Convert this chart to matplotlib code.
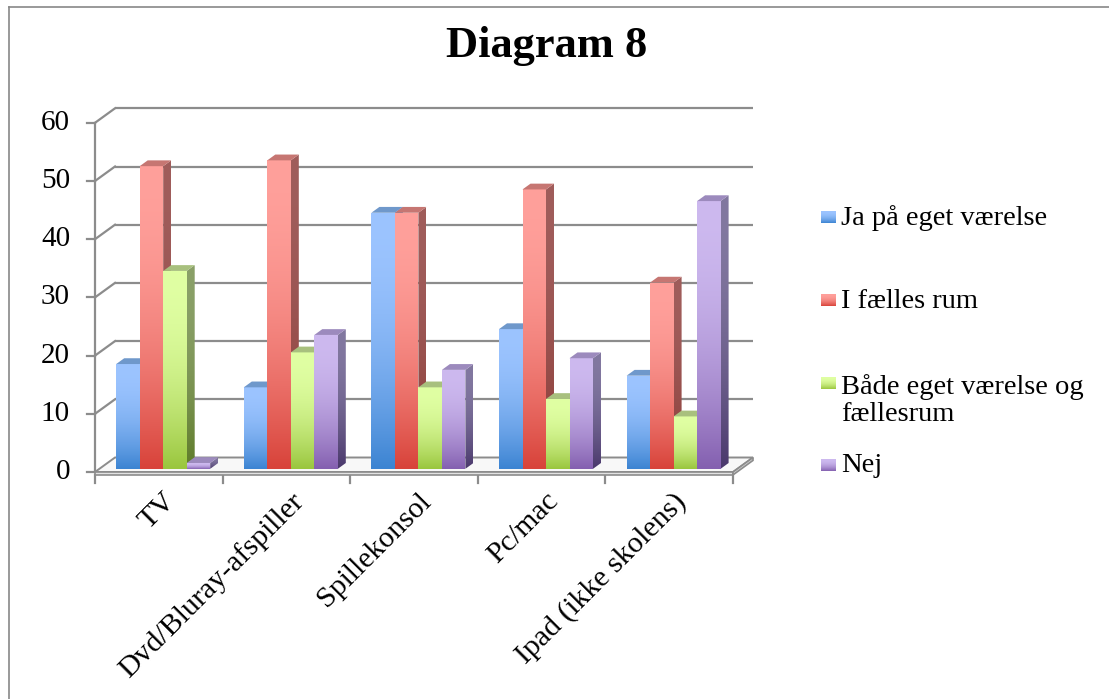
import numpy as np
import matplotlib
matplotlib.use("Agg")
import matplotlib.pyplot as plt
from matplotlib.colors import to_rgb
from matplotlib.patches import Polygon
from matplotlib.lines import Line2D

# ---------------------------------------------------------------
# data
categories = ["TV", "Dvd/Bluray-afspiller", "Spillekonsol", "Pc/mac",
              "Ipad (ikke skolens)"]
series_names = ["Ja på eget værelse", "I fælles rum",
                "Både eget værelse og\nfællesrum", "Nej"]
ja_eget = [18, 14, 44, 24, 16]
faelles = [52, 53, 44, 48, 32]
begge = [34, 20, 14, 12, 9]
nej = [1, 23, 17, 19, 46]
y_ticks = [0, 10, 20, 30, 40, 50, 60]

series = [ja_eget, faelles, begge, nej]

# colours per series: front gradient, side gradient, top face
front_top = ["#9CC4FF", "#FFA09B", "#E0FFA3", "#CDB9EF"]
front_bot = ["#3C84D2", "#D8433A", "#9AC63E", "#8460B0"]
side_top = ["#6A8BBC", "#A05D5B", "#8AA068", "#8278A0"]
side_bot = ["#2C60A0", "#8A3833", "#5E7B28", "#4A386C"]
top_face = ["#6F98CB", "#C67672", "#A8C07E", "#9C8ABD"]

GRID = "#8c8c8c"
FONT = "Liberation Serif"

# ---------------------------------------------------------------
# layout (pixels of the 1109x699 canvas)
W, H = 1109, 699
X0, CW = 95.0, 127.6      # left of category axis, width of one category
Y0, UNIT = 472.0, 5.82    # baseline row, pixels per value unit
ox = 20.0 / CW            # depth offset of the back wall (x, in categories)
oy = 14.5 / UNIT          # depth offset of the back wall (y, in values)
bw = 23.5 / CW            # bar width
g0 = 0.5 - 2 * bw         # start of the bar group in a category
d0, db = 0.22, 0.40       # bar front depth, bar depth (fraction of wall depth)
slab = 0.5                # floor thickness


def px_x(px):
    return (px - X0) / CW


def px_v(py):
    return (Y0 - py) / UNIT


fig = plt.figure(figsize=(W / 100, H / 100), dpi=100)
ax = fig.add_axes([0, 0, 1, 1])
ax.set_axis_off()


def vgrad(c_bot, c_top, n=96):
    t = np.linspace(0, 1, n)
    f = 1 - (1 - t) ** 2
    a = np.array(to_rgb(c_bot))
    b = np.array(to_rgb(c_top))
    rgb = a[None, :] * (1 - f[:, None]) + b[None, :] * f[:, None]
    return rgb[:, None, :]


def grad_poly(verts, c_bot, c_top, z):
    verts = np.asarray(verts)
    poly = Polygon(verts, closed=True, facecolor="none", edgecolor="none",
                   transform=ax.transData, zorder=z)
    ax.add_patch(poly)
    im = ax.imshow(vgrad(c_bot, c_top), origin="lower", aspect="auto",
                   interpolation="bilinear", zorder=z,
                   extent=[verts[:, 0].min(), verts[:, 0].max(),
                           verts[:, 1].min(), verts[:, 1].max()])
    im.set_clip_path(poly)


n_cat = len(categories)

# back wall grid lines and side wall diagonals
for v in y_ticks[1:]:
    ax.plot([ox, n_cat + ox], [v + oy, v + oy], color=GRID, lw=1.6,
            zorder=1, solid_capstyle="butt")
    ax.plot([0, ox], [v, v + oy], color=GRID, lw=1.6, zorder=1)

# front value axis with ticks and labels
ax.plot([0, 0], [0, y_ticks[-1]], color=GRID, lw=1.6, zorder=1)
for v in y_ticks:
    ax.plot([px_x(87), 0], [v, v], color=GRID, lw=1.6, zorder=1)
    ax.text(px_x(70), v, str(v), ha="right", va="center", fontsize=21,
            family=FONT, color="black")

# floor slab
floor_top = [(0, 0), (n_cat, 0), (n_cat + ox, oy), (ox, oy)]
ax.add_patch(Polygon(floor_top, closed=True, facecolor="#f8f8f8",
                     edgecolor=GRID, lw=1.4, zorder=2))
ax.add_patch(Polygon([(0, 0), (n_cat, 0), (n_cat, -slab), (0, -slab)],
                     closed=True, facecolor="#e2e2e2", edgecolor=GRID,
                     lw=1.2, zorder=2))
ax.add_patch(Polygon([(n_cat, 0), (n_cat + ox, oy), (n_cat + ox, oy - slab),
                      (n_cat, -slab)], closed=True, facecolor="#d4d4d4",
                     edgecolor=GRID, lw=1.2, zorder=2))

# category ticks and labels
for i in range(n_cat + 1):
    ax.plot([i, i], [-slab, px_v(483)], color=GRID, lw=1.6, zorder=1)
for i, name in enumerate(categories):
    ax.text(i + 0.53, px_v(488), name, rotation=45, rotation_mode="anchor",
            ha="right", va="top", fontsize=21.5, family=FONT, color="black")

# bars: front face, side face, top face
ddx, ddy = db * ox, db * oy
z = 10
for i in range(n_cat):
    for k, vals in enumerate(series):
        v = vals[i]
        xl = i + g0 + k * bw + d0 * ox
        xr = xl + bw
        yb = d0 * oy
        yt = v + d0 * oy
        grad_poly([(xl, yb), (xr, yb), (xr, yt), (xl, yt)],
                  front_bot[k], front_top[k], z)
        grad_poly([(xr, yb), (xr + ddx, yb + ddy), (xr + ddx, yt + ddy),
                   (xr, yt)], side_bot[k], side_top[k], z - 0.5)
        ax.add_patch(Polygon([(xl, yt), (xr, yt), (xr + ddx, yt + ddy),
                              (xl + ddx, yt + ddy)], closed=True,
                             facecolor=top_face[k], edgecolor="none",
                             zorder=z + 0.2))
        z += 1

# legend
leg_y = [217, 300, 383, 465]
for k, name in enumerate(series_names):
    yc = leg_y[k]
    grad_poly([(px_x(821), px_v(yc + 6)), (px_x(836), px_v(yc + 6)),
               (px_x(836), px_v(yc - 6)), (px_x(821), px_v(yc - 6))],
              front_bot[k], front_top[k], 50)
    if "\n" in name:
        ax.text(px_x(841), px_v(yc - 9), name, ha="left", va="top",
                fontsize=20.5, family=FONT, linespacing=1.1)
    else:
        ax.text(px_x(841), px_v(yc + 1), name, ha="left", va="center",
                fontsize=20.5, family=FONT)

ax.set_xlim(px_x(0), px_x(W))
ax.set_ylim(px_v(H), px_v(0))

# title and outer frame
fig.text(547 / W, 1 - 57 / H, "Diagram 8", ha="center", va="baseline",
         fontsize=32, fontweight="bold", family=FONT)
fig.add_artist(Line2D([9 / W, 9 / W], [0, 1 - 7 / H], color="#888888",
                      lw=1.2))
fig.add_artist(Line2D([9 / W, 1], [1 - 7 / H, 1 - 7 / H], color="#888888",
                      lw=1.2))

fig.savefig("out.png", dpi=100)
